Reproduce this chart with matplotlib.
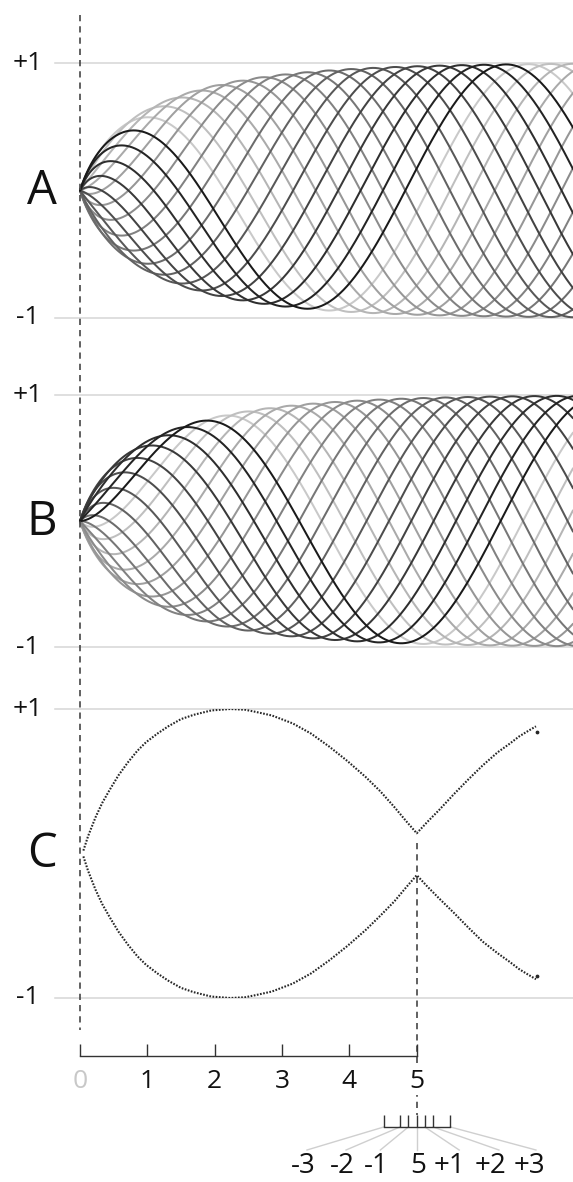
import numpy as np
import matplotlib
matplotlib.use("Agg")
import matplotlib.pyplot as plt

plt.rcParams['font.family'] = ['Open Sans', 'DejaVu Sans']
plt.rcParams['lines.scale_dashes'] = False

# ------------------------------------------------------------------ data
panel_labels = ["A", "B", "C"]
y_labels = ["+1", "-1"]
x_ticks = [0, 1, 2, 3, 4, 5]
x_tick_labels = ["0", "1", "2", "3", "4", "5"]

# fine scale around x = 5
sub_labels = ["-3", "-2", "-1", "5", "+1", "+2", "+3"]
sub_tick_x = [4.51, 4.75, 4.875, 5.0, 5.12, 5.245, 5.50]
sub_fan_end_x = [3.37, 3.95, 4.46, 5.0, 5.63, 6.22, 6.77]
sub_label_x = [3.31, 3.89, 4.40, 5.02, 5.49, 6.10, 6.68]

# strands of panels A and B (helical family, same envelope)
n_strands = 18
wave_number = 1.054
twist_lag = 0.30
twist_lag_scale = 1.0
black_phase_A = 1.49
black_phase_B = 0.0
envelope_scale = 1.60
tip_sharpness = 0.35

# panel C: the two dotted branches
c_x = [0.05, 0.12, 0.23, 0.33, 0.44, 0.57, 0.71, 0.85, 0.98, 1.15, 1.31, 1.50,
       1.69, 1.95, 2.23, 2.45, 2.61, 2.85, 3.16, 3.43, 3.70, 3.97, 4.24, 4.46,
       4.67, 4.85, 5.00, 5.16, 5.33, 5.55, 5.76, 5.98, 6.20, 6.38, 6.52, 6.66, 6.77]
c_upper = [0.02, 0.12, 0.25, 0.35, 0.44, 0.54, 0.63, 0.71, 0.77, 0.83, 0.88, 0.93,
           0.96, 0.99, 1.00, 0.995, 0.98, 0.955, 0.90, 0.83, 0.74, 0.64, 0.53, 0.43,
           0.32, 0.22, 0.14, 0.22, 0.30, 0.41, 0.51, 0.61, 0.70, 0.76, 0.81, 0.85, 0.88]
c_lower = [-0.02, -0.12, -0.25, -0.35, -0.44, -0.54, -0.63, -0.71, -0.77, -0.83, -0.88, -0.93,
           -0.96, -0.99, -1.00, -0.995, -0.98, -0.955, -0.90, -0.83, -0.74, -0.64, -0.53, -0.43,
           -0.33, -0.23, -0.15, -0.23, -0.31, -0.41, -0.51, -0.61, -0.69, -0.75, -0.80, -0.84, -0.87]
c_end_dots_y = [0.84, -0.85]

# ------------------------------------------------------------------ layout
W, H = 573, 1182
PX0, PXU = 80.0, 67.35          # pixel of x=0, pixels per unit
X0 = -PX0 / PXU
X1 = (W - PX0) / PXU


def px2x(p):
    return (p - PX0) / PXU


fig = plt.figure(figsize=(W / 100, H / 100), dpi=100)


def panel_axes(top, bot):
    ax = fig.add_axes([0, 1 - bot / H, 1, (bot - top) / H])
    ax.set_xlim(X0, X1)
    ax.set_ylim(-1, 1)
    ax.axis('off')
    return ax


axA = panel_axes(63, 318)
axB = panel_axes(395, 647)
axC = panel_axes(709, 998)

ov = fig.add_axes([0, 0, 1, 1], zorder=5)
ov.set_xlim(X0, X1)
ov.set_ylim(H, 0)
ov.axis('off')
ov.patch.set_alpha(0)

grid_col = '#d6d6d6'
for ax in (axA, axB, axC):
    for yv in (1, -1):
        ax.plot([px2x(55), X1], [yv, yv], color=grid_col, lw=1.1, zorder=1,
                clip_on=False)

# strands
xs = np.linspace(0, X1, 1200)
g_arg = xs ** 2 / (envelope_scale * xs + tip_sharpness)
env = np.sqrt(1 - np.exp(-g_arg))
theta = wave_number * xs - twist_lag * (1 - np.exp(-xs / twist_lag_scale))
dark, light = 0.10, 0.83
for ax, pb in ((axA, black_phase_A), (axB, black_phase_B)):
    for i in range(n_strands - 1, -1, -1):
        frac = i / n_strands
        g = dark + (light - dark) * frac
        ph = pb + i * 2 * np.pi / n_strands
        ax.plot(xs, env * np.sin(theta + ph), color=(g, g, g),
                lw=1.45, zorder=2 + (n_strands - i) * 0.01, clip_on=False,
                solid_capstyle='round')

# panel C
for ys in (c_upper, c_lower):
    axC.plot(c_x, ys, color='#262626', lw=1.5, ls=(0, (1.2, 1.1)),
             dash_capstyle='butt', zorder=3)
axC.scatter([c_x[-1] + 0.01] * 2, c_end_dots_y, s=3, color='#262626',
            zorder=3)

# panel labels and +1/-1
txt_col = '#111111'
for lab, top, bot in zip(panel_labels, (63, 395, 709), (318, 647, 998)):
    ov.text(px2x(42), (top + bot) / 2 + 1, lab, ha='center', va='center',
            fontsize=34, color=txt_col)
    ov.text(px2x(28), top, y_labels[0], ha='center', va='center',
            fontsize=19, color=txt_col)
    ov.text(px2x(28), bot, y_labels[1], ha='center', va='center',
            fontsize=19, color=txt_col)

# dashed guide lines
dash_col = '#454545'
ov.plot([0, 0], [15, 1030], color=dash_col, lw=1.2, ls=(0, (4.5, 3.6)),
        zorder=1)
ov.plot([5, 5], [843, 1115], color=dash_col, lw=1.2, ls=(0, (4.5, 3.6)),
        zorder=1)

# main scale axis
axS = fig.add_axes([0, 1 - 1056 / H, 1, 0.5 / H], zorder=6)
axS.set_xlim(X0, X1)
axS.patch.set_alpha(0)
for s in ('left', 'right', 'top'):
    axS.spines[s].set_visible(False)
axS.spines['bottom'].set_bounds(0, 5)
axS.spines['bottom'].set_color('#333333')
axS.spines['bottom'].set_linewidth(1.0)
axS.set_yticks([])
axS.set_xticks(x_ticks)
axS.set_xticklabels(x_tick_labels, fontsize=19, color=txt_col)
axS.tick_params(axis='x', direction='in', length=8.5, width=1.0,
                color='#333333', pad=9)
axS.get_xticklabels()[0].set_color('#c8c8c8')
for t in axS.get_xticklabels():
    t.set_bbox(dict(facecolor='white', edgecolor='none', pad=1.0))

# fine sub-scale
sub_y = 1127
ov.plot([sub_tick_x[0], sub_tick_x[-1]], [sub_y, sub_y], color='#333333',
        lw=1.0, zorder=6, solid_capstyle='projecting')
ov.vlines(sub_tick_x, sub_y - 12, sub_y, color='#333333', lw=1.0, zorder=6)
for tx, ex, lx, lab in zip(sub_tick_x, sub_fan_end_x, sub_label_x, sub_labels):
    ov.plot([tx, ex], [sub_y, 1150], color='#cfcfcf', lw=1.0, zorder=4)
    ov.text(lx, 1166, lab, ha='center', va='center', fontsize=20,
            color=txt_col, zorder=6)

fig.savefig('out.png', dpi=100, facecolor='white')
